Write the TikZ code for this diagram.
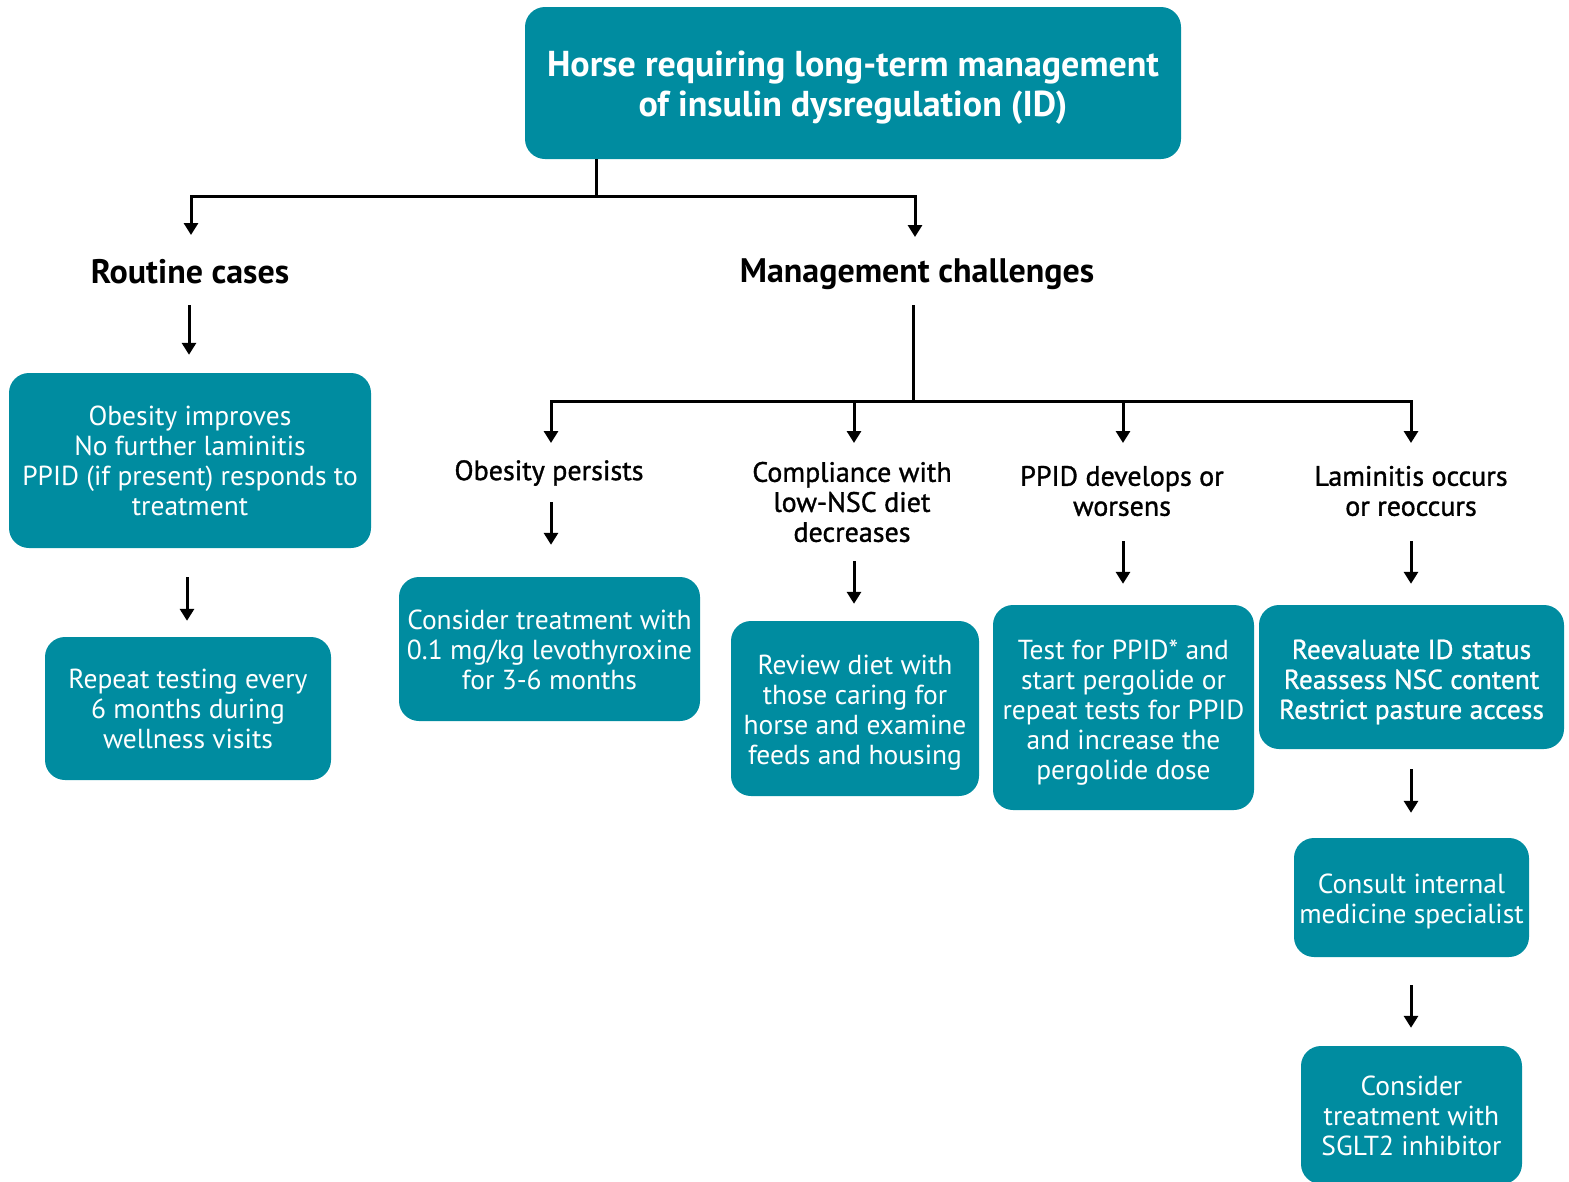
\documentclass[tikz,border=0pt]{standalone}
\usepackage{fontspec}
\setmainfont{PT Sans}
\newfontfamily\medfont[FakeBold=1.2]{PT Sans}
\newfontfamily\semifont[FakeBold=0.8]{PT Sans}
\usetikzlibrary{arrows.meta,calc}
\definecolor{teal1}{RGB}{0,140,160}
\tikzset{
  box/.style={fill=teal1, rounded corners=20pt, inner sep=0pt},
  btxt/.style={text=white, align=center, inner sep=0pt, font=\fontsize{27.5}{30}\selectfont},
  lbl/.style={align=center, inner sep=0pt, font=\medfont\fontsize{28}{30}\selectfont},
  head/.style={inner sep=0pt, font=\bfseries\fontsize{34}{38}\selectfont},
  arr/.style={line width=3pt, -{Triangle[width=14pt,length=12pt]}},
  ln/.style={line width=3pt}
}
\begin{document}
\begin{tikzpicture}[x=1pt,y=-1pt]
\useasboundingbox (0,0) rectangle (1569,1181);
\begin{scope}
\clip (0,0) rectangle (1569,1181);
\node[box, minimum width=656, minimum height=152] (title) at (853,83) {};
\node[btxt, font=\bfseries\fontsize{36}{40}\selectfont] (title-t) at ($(title)+(0,5)$) {Horse requiring long-term management\\of insulin dysregulation (ID)};

\node[head] (rc) at (190,272) {Routine cases};
\node[head] (mc) at (917,274) {Management challenges};

\node[box, minimum width=362, minimum height=175] (ob) at (190,460.5) {};
\node[btxt] (ob-t) at (ob) {Obesity improves\\No further laminitis\\PPID (if present) responds to\\treatment};
\node[box, minimum width=286, minimum height=143] (rep) at (188,708.5) {};
\node[btxt] (rep-t) at (rep) {Repeat testing every\\6 months during\\wellness visits};

\node[lbl] (op) at (549,473) {Obesity persists};
\node[lbl] (comp) at (852,502) {Compliance with\\low-NSC diet\\decreases};
\node[lbl] (ppid) at (1122,491) {PPID develops or\\worsens};
\node[lbl] (lam) at (1411,491) {Laminitis occurs\\or reoccurs};

\node[box, minimum width=301, minimum height=144] (lev) at (549.5,649) {};
\node[btxt] (lev-t) at ($(lev)+(0,1)$) {Consider treatment with\\0.1 mg/kg levothyroxine\\for 3-6 months};
\node[box, minimum width=248, minimum height=175] (rev) at (855,708.5) {};
\node[btxt] (rev-t) at ($(rev)+(0,4)$) {Review diet with\\those caring for\\horse and examine\\feeds and housing};
\node[box, minimum width=261, minimum height=205] (test) at (1123.5,707.5) {};
\node[btxt] (test-t) at ($(test)+(0,5)$) {Test for PPID* and\\start pergolide or\\repeat tests for PPID\\and increase the\\pergolide dose};
\node[box, minimum width=305, minimum height=144] (reev) at (1411.5,677) {};
\node[btxt, font=\semifont\fontsize{27.5}{30}\selectfont] (reev-t) at ($(reev)+(0,5)$) {Reevaluate ID status\\Reassess NSC content\\Restrict pasture access};
\node[box, minimum width=235, minimum height=119] (cons) at (1411.5,897.5) {};
\node[btxt] (cons-t) at ($(cons)+(0,4)$) {Consult internal\\medicine specialist};
\node[box, minimum width=221, minimum height=138] (sglt) at (1411.5,1115) {};
\node[btxt] (sglt-t) at ($(sglt)+(0,1)$) {Consider\\treatment with\\SGLT2 inhibitor};

% top branching
\coordinate (j1) at (596,196);
\coordinate (a1) at (191,235);
\coordinate (a2) at (915,237);
\draw[ln] (title.south -| j1) -- (j1);
\draw[arr] (j1) -| (a1);
\draw[arr] (j1) -| (a2);

% management branching
\coordinate (j2) at (913,401);
\coordinate (m0) at (913,305);
\coordinate (b1) at (551,443);
\coordinate (b2) at (854,443);
\coordinate (b3) at (1123,443);
\coordinate (b4) at (1411,443);
\draw[ln] (m0) -- (j2);
\draw[arr] (j2) -| (b1);
\draw[arr] (j2) -| (b2);
\draw[arr] (j2) -| (b3);
\draw[arr] (j2) -| (b4);

% vertical arrows
\draw[arr] ($(rc.center)+(-1,33)$) -- ($(ob.north)+(-1,-18)$);
\draw[arr] ($(ob.south)+(-3,29)$) -- ($(rep.north)+(-1,-16)$);
\draw[arr] ($(op.center)+(2,29)$) -- ($(lev.north)+(1.5,-32)$);
\draw[arr] ($(comp.center)+(2,59)$) -- ($(rev.north)+(-1,-17)$);
\draw[arr] ($(ppid.center)+(1,50)$) -- ($(test.north)+(-0.5,-21)$);
\draw[arr] ($(lam.center)+(0,50)$) -- ($(reev.north)+(-0.5,-21)$);
\draw[arr] ($(reev.south)+(-0.5,20)$) -- ($(cons.north)+(-0.5,-25)$);
\draw[arr] ($(cons.south)+(-0.5,28)$) -- ($(sglt.north)+(-0.5,-18)$);
\end{scope}
\end{tikzpicture}
\end{document}
